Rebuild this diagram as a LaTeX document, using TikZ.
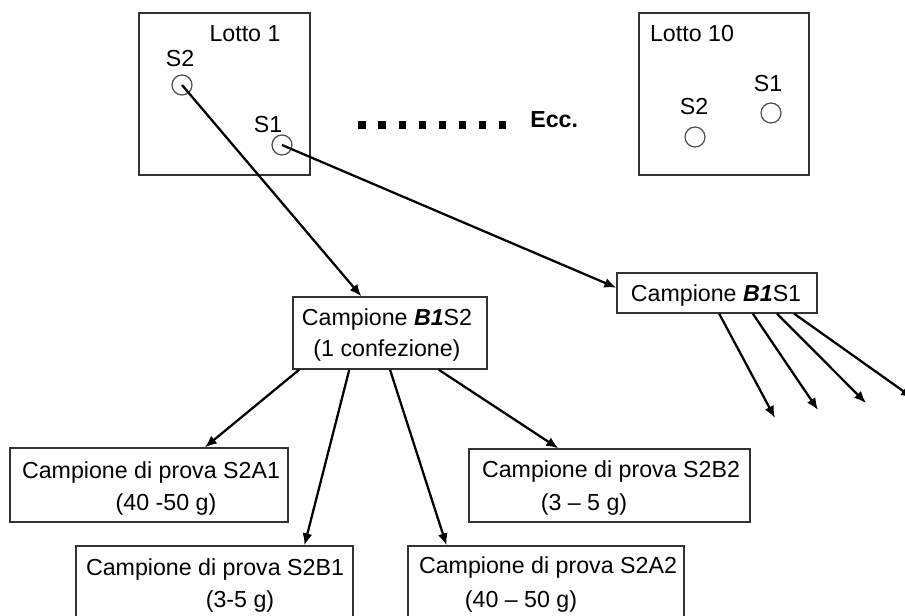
\documentclass[tikz,border=0pt]{standalone}
\usepackage{fontspec}
\setmainfont{Liberation Sans}
\usetikzlibrary{arrows.meta}
\begin{document}
\begin{tikzpicture}[x=0.75pt,y=-0.75pt,
  box/.style={draw=black!80, line width=1pt, rectangle, inner sep=0pt},
  lbl/.style={inner sep=0pt, anchor=base, font=\fontsize{17.4}{20}\selectfont},
  spot/.style={circle, draw=black!70, line width=0.9pt, minimum size=15pt, inner sep=0pt},
  arr/.style={line width=1.7pt, -{Latex[length=9pt,width=7.5pt]}},
  dotsq/.style={rectangle, fill=black, minimum size=5.5pt, inner sep=0pt}
]
\useasboundingbox (0,0) rectangle (905,615);
\clip (0,0) rectangle (905,615);

% lot boxes
\node[box, minimum width=128.25pt, minimum height=121.5pt] (lot1) at (224.5,94) {};
\node[box, minimum width=127.5pt, minimum height=121.5pt] (lot10) at (724,94) {};
\node[lbl] (lot1t) at (245,41) {Lotto 1};
\node[lbl] (lot10t) at (692,41) {Lotto 10};

% sampling spots
\node[spot] (c1s2) at (182,85) {};
\node[spot] (c1s1) at (282,145) {};
\node[spot] (c10s1) at (771,113) {};
\node[spot] (c10s2) at (695,137) {};
\node[lbl] (c1s2t) at (180,66) {S2};
\node[lbl] (c1s1t) at (268,132) {S1};
\node[lbl] (c10s1t) at (768,91) {S1};
\node[lbl] (c10s2t) at (694,114) {S2};

% ellipsis between lots
\foreach \i in {0,...,7} {
  \node[dotsq] (dot\i) at (362+20.1*\i,125) {};
}
\node[lbl, anchor=base west] (ecc) at (530,127) {\textbf{Ecc.}};

% samples
\node[box, minimum width=145.5pt, minimum height=54pt] (b1s2) at (390,333) {};
\node[lbl] (b1s2a) at (387,325) {Campione \textbf{\textit{B1}}S2};
\node[lbl] (b1s2b) at (387,356) {(1 confezione)};

\node[box, minimum width=150pt, minimum height=30pt] (b1s1) at (717,293) {};
\node[lbl] (b1s1a) at (716,301) {Campione \textbf{\textit{B1}}S1};

% test portions
\node[box, minimum width=208.5pt, minimum height=55.5pt] (s2a1) at (149,485) {};
\node[lbl] (s2a1a) at (151,478) {Campione di prova S2A1};
\node[lbl] (s2a1b) at (166,510) {(40 -50 g)};

\node[box, minimum width=210.75pt, minimum height=54.75pt] (s2b2) at (609.5,485.5) {};
\node[lbl] (s2b2a) at (611,477) {Campione di prova S2B2};
\node[lbl] (s2b2b) at (584,510) {(3 -- 5 g)};

\node[box, minimum width=207.75pt, minimum height=56.25pt] (s2b1) at (214.5,583.5) {};
\node[lbl] (s2b1a) at (215,575) {Campione di prova S2B1};
\node[lbl] (s2b1b) at (240,607) {(3-5 g)};

\node[box, minimum width=207pt, minimum height=56.25pt] (s2a2) at (546,583.5) {};
\node[lbl] (s2a2a) at (548,573) {Campione di prova S2A2};
\node[lbl] (s2a2b) at (521,607) {(40 -- 50 g)};

% loose ends of the B1S1 branch
\coordinate (e1) at (775,418);
\coordinate (e2) at (818,410);
\coordinate (e3) at (866,403);
\coordinate (e4) at (913,398);

% connectors
\draw[arr] (c1s2.center) -- (b1s2.128);
\draw[arr] (c1s1.center) -- (b1s1.177);

\draw[arr] (b1s2.202) -- (s2a1.34);
\draw[arr] (b1s2.222) -- (s2b1.23);
\draw[arr] (b1s2.270) -- (s2a2.159);
\draw[arr] (b1s2.323) -- (s2b2.144);

\draw[arr] (b1s1.276) -- (e1);
\draw[arr] (b1s1.330) -- (e2);
\draw[arr] (b1s1.341.6) -- (e3);
\draw[arr] (b1s1.345) -- (e4);
\end{tikzpicture}
\end{document}
